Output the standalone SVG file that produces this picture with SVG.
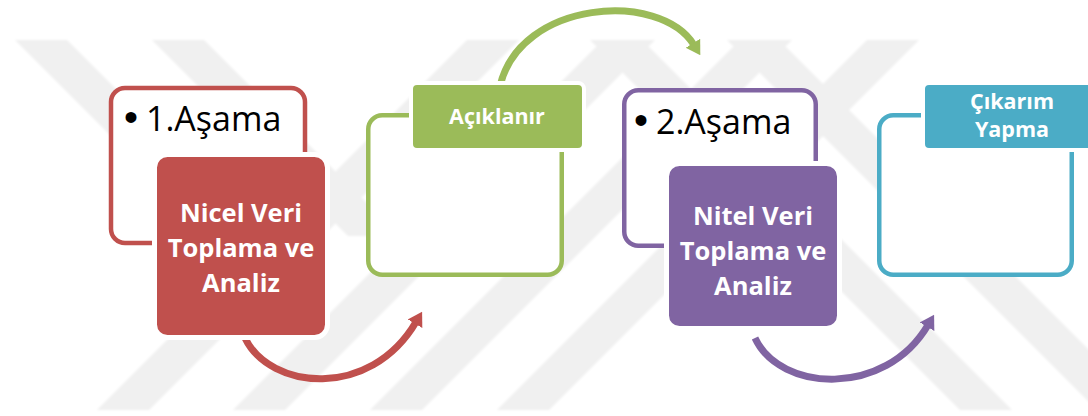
<svg xmlns="http://www.w3.org/2000/svg" width="1088" height="416" viewBox="0 0 1088 416">
  <defs>
    <style>
      .bg { fill: #ffffff; }
      .wm { fill: #f0f0f0; }
      .frame { fill: #ffffff; stroke-width: 4.5; }
      .card { stroke: #ffffff; stroke-width: 5; }
      .tag { stroke: #ffffff; stroke-width: 4; }
      .bullet { font-family: "Open Sans", "Liberation Sans", sans-serif; font-size: 34px; fill: #000000; }
      .dot { font-family: "Liberation Sans", sans-serif; font-size: 40px; }
      .big { font-family: "Open Sans", "Liberation Sans", sans-serif; font-size: 25.5px; font-weight: 700; fill: #ffffff; text-anchor: middle; }
      .small { font-family: "Open Sans", "Liberation Sans", sans-serif; font-size: 21.5px; font-weight: 700; fill: #ffffff; text-anchor: middle; }
      .arc { fill: none; stroke-width: 7; }
    </style>
    <filter id="soft" x="-5%" y="-5%" width="110%" height="110%">
      <feGaussianBlur stdDeviation="1.2"/>
    </filter>
    <marker id="headRed" markerUnits="userSpaceOnUse" viewBox="0 -10 14 20" refX="2" refY="0" markerWidth="14" markerHeight="20" orient="auto">
      <path d="M0,-8.5 L14,0 L0,8.5 Z" fill="#c0504d"/>
    </marker>
    <marker id="headGreen" markerUnits="userSpaceOnUse" viewBox="0 -10 14 20" refX="2" refY="0" markerWidth="14" markerHeight="20" orient="auto">
      <path d="M0,-8.5 L14,0 L0,8.5 Z" fill="#9bbb59"/>
    </marker>
    <marker id="headPurple" markerUnits="userSpaceOnUse" viewBox="0 -10 14 20" refX="2" refY="0" markerWidth="14" markerHeight="20" orient="auto">
      <path d="M0,-8.5 L14,0 L0,8.5 Z" fill="#8064a2"/>
    </marker>
  </defs>

  <rect class="bg" x="0" y="0" width="1088" height="416"/>

  <!-- faint diagonal band pattern in the background -->
  <g id="backdrop" filter="url(#soft)">
    <polygon class="wm" points="15,40 67,40 277,250 225,250"/>
    <polygon class="wm" points="152,40 204,40 400,236 348,236"/>
    <polygon class="wm" points="467,40 519,40 149,410 97,410"/>
    <polygon class="wm" points="603,40 655,40 285,410 233,410"/>
    <polygon class="wm" points="590,40 642,40 1012,410 960,410"/>
    <polygon class="wm" points="727,40 779,40 1149,410 1097,410"/>
    <polygon class="wm" points="740,40 792,40 422,410 370,410"/>
    <polygon class="wm" points="867,40 919,40 549,410 497,410"/>
  </g>

  <!-- curved arrows between the stages -->
  <g id="connectors">
    <path class="arc" stroke="#c0504d" d="M245,338 C270,390 370,400 416,322" marker-end="url(#headRed)"/>
    <path class="arc" stroke="#9bbb59" d="M500,86 C520,0 660,-10 694,45" marker-end="url(#headGreen)"/>
    <path class="arc" stroke="#8064a2" d="M755,338 C780,392 885,398 928,325" marker-end="url(#headPurple)"/>
  </g>

  <!-- stage 1 -->
  <g id="stage1">
    <rect class="frame" stroke="#c0504d" x="111" y="88" width="194" height="155" rx="14"/>
    <text class="bullet" x="124" y="131"><tspan class="dot">•</tspan><tspan x="146">1.Aşama</tspan></text>
    <rect class="card" fill="#c0504d" x="154.5" y="154.5" width="173" height="183" rx="13"/>
    <text class="big" x="241" y="222">Nicel Veri</text>
    <text class="big" x="241" y="257">Toplama ve</text>
    <text class="big" x="241" y="292">Analiz</text>
  </g>

  <!-- explanation step -->
  <g id="explain">
    <rect class="frame" stroke="#9bbb59" x="368.25" y="115.25" width="193.5" height="159.5" rx="14"/>
    <rect class="tag" fill="#9bbb59" x="411" y="83" width="173" height="67" rx="6"/>
    <text class="small" x="497" y="124">Açıklanır</text>
  </g>

  <!-- stage 2 -->
  <g id="stage2">
    <rect class="frame" stroke="#8064a2" x="624.25" y="90.25" width="191.5" height="155.5" rx="14"/>
    <text class="bullet" x="634" y="134"><tspan class="dot">•</tspan><tspan x="656">2.Aşama</tspan></text>
    <rect class="card" fill="#8064a2" x="666.5" y="163.5" width="173" height="165" rx="13"/>
    <text class="big" x="753" y="225">Nitel Veri</text>
    <text class="big" x="753" y="260">Toplama ve</text>
    <text class="big" x="753" y="295">Analiz</text>
  </g>

  <!-- inference step -->
  <g id="infer">
    <rect class="frame" stroke="#4bacc6" x="879.25" y="115.25" width="192.5" height="159.5" rx="14"/>
    <rect class="tag" fill="#4bacc6" x="923" y="83" width="173" height="67" rx="6"/>
    <text class="small" x="1012" y="109">Çıkarım</text>
    <text class="small" x="1012" y="137">Yapma</text>
  </g>
</svg>
